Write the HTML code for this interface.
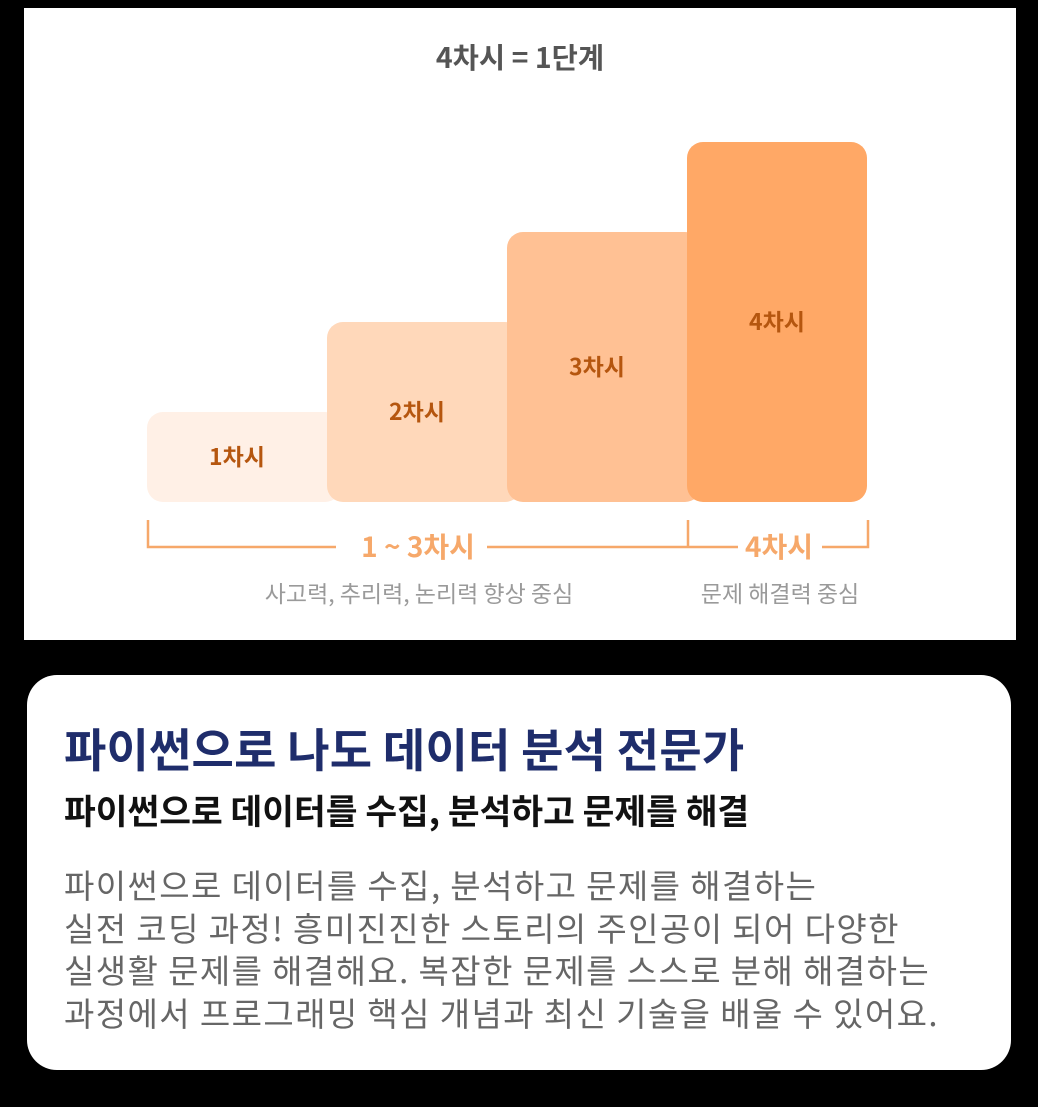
<!DOCTYPE html>
<html><head><meta charset="utf-8"><style>
html,body{margin:0;padding:0;background:#000;width:1038px;height:1107px;overflow:hidden;font-family:"Liberation Sans","Noto Sans CJK KR",sans-serif}
#panel{position:absolute;left:24px;top:8px;width:992px;height:632px;background:#fff}
#card{position:absolute;left:27px;top:675px;width:984px;height:395px;background:#fff;border-radius:30px}
.t{position:absolute;white-space:nowrap;font-family:"Noto Sans CJK KR",sans-serif}
</style></head><body>
<div id="panel">
<svg id="chart" width="992" height="632" style="position:absolute;left:0;top:0"></svg>
</div>
<div id="card">
<div class="t" style="left:37px;top:43px;font-size:46px;font-weight:700;color:#1f2d6b;line-height:60px;letter-spacing:0.2px">파이썬으로 나도 데이터 분석 전문가</div>
<div class="t" style="left:37px;top:111px;font-size:34.5px;font-weight:700;color:#111;line-height:46px">파이썬으로 데이터를 수집, 분석하고 문제를 해결</div>
<div class="t" style="left:37px;top:188px;font-size:33px;font-weight:400;color:#666;line-height:42.5px;letter-spacing:1.4px">파이썬으로 데이터를 수집, 분석하고 문제를 해결하는<br>실전 코딩 과정! 흥미진진한 스토리의 주인공이 되어 다양한<br>실생활 문제를 해결해요. 복잡한 문제를 스스로 분해 해결하는<br>과정에서 프로그래밍 핵심 개념과 최신 기술을 배울 수 있어요.</div>
</div>
<script>
const categories=["1차시","2차시","3차시","4차시"];
const values=[1,2,3,4];
const colors=["#fff0e6","#ffd8ba","#ffc194","#ffa866"];
const NS="http://www.w3.org/2000/svg";
const svg=document.getElementById('chart');
const ox=-24, oy=-8;
const x0=147, bw=180, base=502, unit=90;
function xs(i){return x0+i*bw+ox;}
function ys(v){return base-v*unit+oy;}
function mk(tag,attrs){const e=document.createElementNS(NS,tag);for(const k in attrs)e.setAttribute(k,attrs[k]);svg.appendChild(e);return e;}
const F='"Noto Sans CJK KR",sans-serif';
const title=mk('text',{x:520+ox,y:68+oy,'text-anchor':'middle','font-size':28.5,'font-weight':700,fill:'#555','font-family':F});
title.textContent="4차시 = 1단계";


values.forEach((v,i)=>{
  const r=mk('rect',{x:xs(i),y:ys(v),width:bw+(i<3?14:0),height:v*unit,rx:16,fill:colors[i]});
  
  
});
values.forEach((v,i)=>{
  const t=mk('text',{x:xs(i)+bw/2,y:(ys(v)+base+oy)/2+8,'text-anchor':'middle','font-size':23,'font-weight':700,fill:'#b5560f','font-family':F});
  t.textContent=categories[i];
  
  
});
const oc="#f6a86a";
const p=mk('path',{d:`M${148+ox} ${520+oy}V${547+oy}H${336+ox}M${487+ox} ${547+oy}H${868+ox}V${520+oy}M${688+ox} ${520+oy}V${547+oy}`,stroke:oc,'stroke-width':2.5,fill:'none'});


mk('rect',{x:738+ox,y:535+oy,width:84,height:24,fill:'#fff'});
const l1=mk('text',{x:418+ox,y:557+oy,'text-anchor':'middle','font-size':28,'font-weight':700,fill:oc,'font-family':F});
l1.textContent="1 ~ 3차시";


const l2=mk('text',{x:779+ox,y:557+oy,'text-anchor':'middle','font-size':28,'font-weight':700,fill:oc,'font-family':F});
l2.textContent="4차시";


const d1=mk('text',{x:419+ox,y:602+oy,'text-anchor':'middle','font-size':23,fill:'#9a9a9a','font-family':F});
d1.textContent="사고력, 추리력, 논리력 향상 중심";


const d2=mk('text',{x:780+ox,y:602+oy,'text-anchor':'middle','font-size':23,fill:'#9a9a9a','font-family':F});
d2.textContent="문제 해결력 중심";


</script>
</body></html>
